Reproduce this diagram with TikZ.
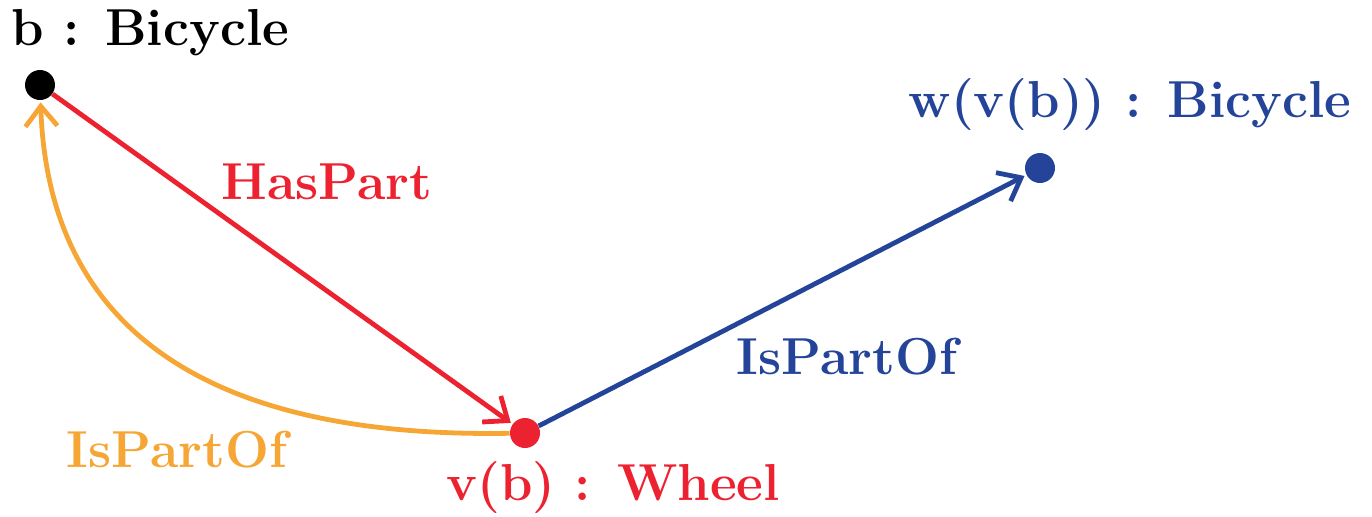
\documentclass[tikz,border=0pt]{standalone}
\usepackage{xcolor}
\usetikzlibrary{arrows.meta,positioning}
\definecolor{partred}{RGB}{236,34,48}
\definecolor{partblue}{RGB}{36,68,153}
\definecolor{partorange}{RGB}{246,166,52}
\tikzset{
  obj/.style    ={circle,fill,minimum size=15pt,inner sep=0pt},
  lbl/.style    ={font=\fontsize{26}{30}\selectfont\bfseries,inner sep=0pt},
  rel/.style    ={line width=2.4pt,-{Straight Barb[length=10pt,width=16pt,line width=2.4pt]},shorten >=1pt},
}
\begin{document}
\begin{tikzpicture}[x=0.5pt,y=-0.5pt]
  \useasboundingbox (0,0) rectangle (1372,516);
  % objects
  \node[obj,black]      (b) at (40,85) {};
  \node[obj,partred]    (v) at (525,433) {};
  \node[obj,partblue]   (w) at (1040,168) {};
  % object labels
  \node[lbl,black]      (bl) at (150,33)  {b : Bicycle};
  \node[lbl,partred]    (vl) at (613,488) {v(b) : Wheel};
  \node[lbl,partblue]   (wl) at (1130,105) {w(v(b)) : Bicycle};
  % relations
  \draw[rel,partred]    (b) -- (v);
  \draw[rel,partblue]   (v) -- (w);
  \draw[rel,partorange] (v) to[out=181,in=-88,looseness=1.15] (b);
  \node[lbl,partred]    (hl) at (327,182) {HasPart};
  \node[lbl,partblue]   (il) at (847,357) {IsPartOf};
  \node[lbl,partorange] (ol) at (177,450) {IsPartOf};
\end{tikzpicture}
\end{document}
